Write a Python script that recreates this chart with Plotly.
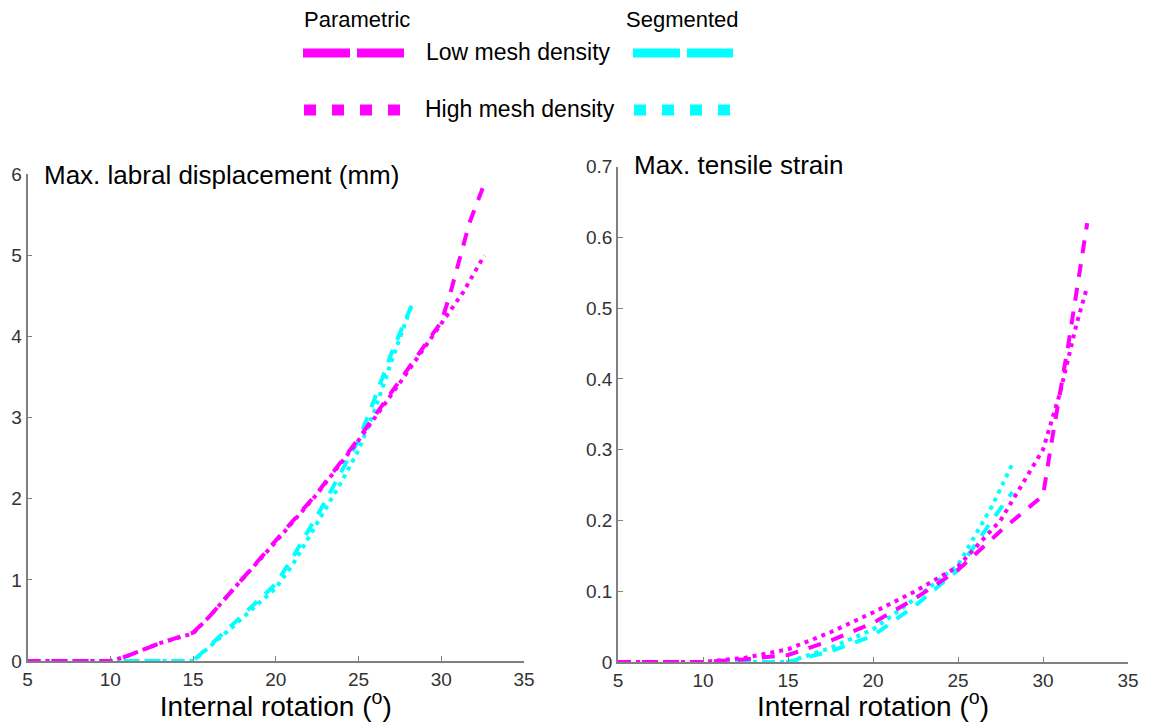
import plotly.graph_objects as go

W, H = 1150, 722
FONT = "Liberation Sans, Arial, sans-serif"
MAGENTA = "#FF00FF"
CYAN = "#00FFFF"
AXIS_GREY = "#808080"

# ---- Max. labral displacement (mm) vs internal rotation (deg) ----
disp_param_low_x = [5, 10, 11, 13, 15, 16, 17.5, 20, 22.5, 25, 27.5, 30, 30.5, 31.7, 32.5]
disp_param_low_y = [0, 0, 0.06, 0.22, 0.35, 0.55, 0.9, 1.48, 2.07, 2.74, 3.45, 4.18, 4.5, 5.4, 5.83]
disp_param_high_x = [5, 10, 11, 13, 15, 16, 17.5, 20, 22.5, 25, 27.5, 30, 31.3, 32.6]
disp_param_high_y = [0, 0, 0.06, 0.22, 0.34, 0.55, 0.9, 1.47, 2.06, 2.72, 3.43, 4.15, 4.54, 5.0]
disp_seg_low_x = [5, 15, 17.5, 20, 21, 22, 23, 24, 25, 26, 27, 28.2]
disp_seg_low_y = [0, 0, 0.47, 0.95, 1.27, 1.62, 1.97, 2.35, 2.72, 3.25, 3.8, 4.38]
disp_seg_high_x = [5, 15, 17.5, 20, 21, 22, 23, 24, 25, 26, 27, 28.2]
disp_seg_high_y = [0, 0, 0.44, 0.9, 1.18, 1.52, 1.86, 2.22, 2.6, 3.1, 3.7, 4.38]

# ---- Max. tensile strain vs internal rotation (deg) ----
strain_param_low_x = [5, 10, 12.5, 15, 17.5, 20, 22.5, 25, 27.5, 30, 30.5, 31.5, 32.6]
strain_param_low_y = [0, 0, 0.004, 0.01, 0.03, 0.055, 0.09, 0.13, 0.185, 0.235, 0.31, 0.45, 0.62]
strain_param_high_x = [5, 10, 12.5, 15, 17.5, 20, 22.5, 25, 27.5, 30, 31, 32, 32.6]
strain_param_high_y = [0, 0, 0.006, 0.018, 0.042, 0.07, 0.1, 0.135, 0.2, 0.3, 0.38, 0.48, 0.53]
strain_seg_low_x = [5, 15, 17.5, 20, 22.5, 25, 27, 28.2]
strain_seg_low_y = [0, 0, 0.015, 0.037, 0.08, 0.13, 0.2, 0.24]
strain_seg_high_x = [5, 15, 17.5, 20, 22.5, 25, 27, 28.2]
strain_seg_high_y = [0, 0, 0.02, 0.046, 0.09, 0.137, 0.22, 0.28]

x_ticks = [5, 10, 15, 20, 25, 30, 35]
disp_ticks = [0, 1, 2, 3, 4, 5, 6]
strain_ticks = [0, 0.1, 0.2, 0.3, 0.4, 0.5, 0.6, 0.7]
strain_tick_text = ["0", "0.1", "0.2", "0.3", "0.4", "0.5", "0.6", "0.7"]

DASH = "13px,11px"
DOT = "4px,5px"
LW = 4

fig = go.Figure()


def add_line(x, y, color, dash, xa, ya):
    fig.add_trace(go.Scatter(
        x=x, y=y, mode="lines", xaxis=xa, yaxis=ya, showlegend=False,
        line=dict(color=color, width=LW, dash=dash), hoverinfo="skip",
    ))


add_line(disp_seg_low_x, disp_seg_low_y, CYAN, DASH, "x", "y")
add_line(disp_seg_high_x, disp_seg_high_y, CYAN, DOT, "x", "y")
add_line(disp_param_low_x, disp_param_low_y, MAGENTA, DASH, "x", "y")
add_line(disp_param_high_x, disp_param_high_y, MAGENTA, DOT, "x", "y")

add_line(strain_seg_low_x, strain_seg_low_y, CYAN, DASH, "x2", "y2")
add_line(strain_seg_high_x, strain_seg_high_y, CYAN, DOT, "x2", "y2")
add_line(strain_param_low_x, strain_param_low_y, MAGENTA, DASH, "x2", "y2")
add_line(strain_param_high_x, strain_param_high_y, MAGENTA, DOT, "x2", "y2")


def px(v):
    return v / W


def py(v):
    return 1 - v / H


axis_common = dict(
    showline=True, linecolor=AXIS_GREY, linewidth=1.5,
    ticks="inside", ticklen=5, tickcolor=AXIS_GREY, tickwidth=1.3,
    showgrid=False, zeroline=False, mirror=False, automargin=False,
    tickfont=dict(family=FONT, size=19, color="#333333"),
)
xtitle = dict(text="Internal rotation (<sup>o</sup>)",
              font=dict(family=FONT, size=28, color="#000000"), standoff=2)

fig.update_layout(
    width=W, height=H,
    margin=dict(l=0, r=0, t=0, b=0),
    paper_bgcolor="white", plot_bgcolor="white",
    xaxis=dict(domain=[px(27.5), px(524)], range=[5, 35], tickvals=x_ticks,
               anchor="y", title=xtitle, **axis_common),
    yaxis=dict(domain=[py(661), py(174.4)], range=[0, 6], tickvals=disp_ticks,
               anchor="x", **axis_common),
    xaxis2=dict(domain=[px(618), px(1128)], range=[5, 35], tickvals=x_ticks,
                anchor="y2", title=xtitle, **axis_common),
    yaxis2=dict(domain=[py(662), py(166.5)], range=[0, 0.7], tickvals=strain_ticks,
                ticktext=strain_tick_text, anchor="x2", **axis_common),
)

# Panel titles drawn inside each axes box
fig.add_annotation(text="Max. labral displacement (mm)", xref="paper", yref="paper",
                   x=px(42), y=py(175), xanchor="left", yanchor="middle", showarrow=False,
                   font=dict(family=FONT, size=26, color="#000000"))
fig.add_annotation(text="Max. tensile strain", xref="paper", yref="paper",
                   x=px(632), y=py(165), xanchor="left", yanchor="middle", showarrow=False,
                   font=dict(family=FONT, size=26, color="#000000"))

# Custom two-column key: Parametric (magenta) | Segmented (cyan)
legend_font = dict(family=FONT, size=23, color="#000000")
fig.add_annotation(text="Parametric", xref="paper", yref="paper", x=px(357), y=py(20),
                   xanchor="center", yanchor="middle", showarrow=False,
                   font=dict(family=FONT, size=22, color="#000000"))
fig.add_annotation(text="Segmented", xref="paper", yref="paper", x=px(682), y=py(20),
                   xanchor="center", yanchor="middle", showarrow=False,
                   font=dict(family=FONT, size=22, color="#000000"))
fig.add_annotation(text="Low mesh density", xref="paper", yref="paper", x=px(518), y=py(52),
                   xanchor="center", yanchor="middle", showarrow=False, font=legend_font)
fig.add_annotation(text="High mesh density", xref="paper", yref="paper", x=px(520), y=py(109),
                   xanchor="center", yanchor="middle", showarrow=False, font=legend_font)

for color, x0, x1 in [(MAGENTA, 303, 404), (CYAN, 633, 733)]:
    fig.add_shape(type="line", xref="paper", yref="paper",
                  x0=px(x0), x1=px(x1), y0=py(53), y1=py(53),
                  line=dict(color=color, width=9, dash="47px,7px"))
    fig.add_shape(type="line", xref="paper", yref="paper",
                  x0=px(x0 + 1), x1=px(x1), y0=py(110), y1=py(110),
                  line=dict(color=color, width=11, dash="12px,16px"))

fig.write_html("out.html")
